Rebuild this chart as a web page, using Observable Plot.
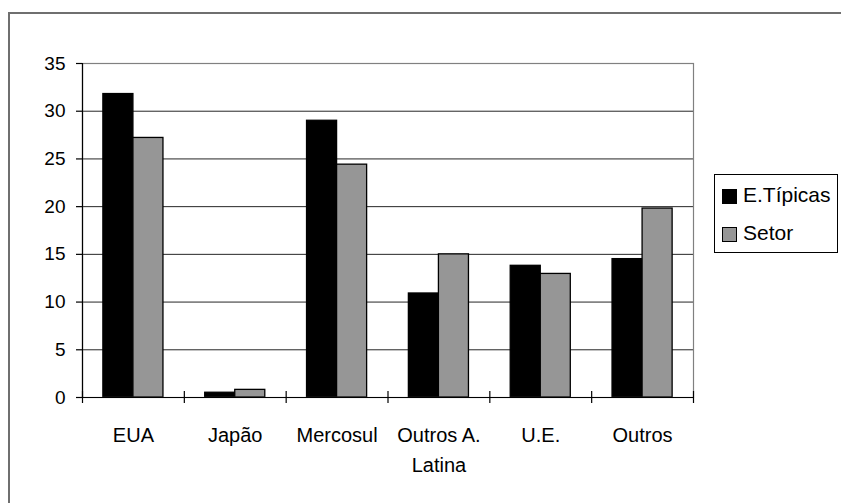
<!DOCTYPE html>
<html>
<head>
<meta charset="utf-8">
<script src="https://cdn.jsdelivr.net/npm/d3@7"></script>
<script src="https://cdn.jsdelivr.net/npm/@observablehq/plot@0.6"></script>
<style>
  html, body { margin: 0; padding: 0; background: #fff; }
  body { position: relative; width: 841px; height: 503px; overflow: hidden;
         font-family: "Liberation Sans", Arial, sans-serif; }
  #chart { position: absolute; left: 0; top: 0; }
  .outer { position: absolute; left: 8px; top: 12px; width: 900px; height: 600px;
           border-left: 2px solid #6f6f6f; border-top: 2px solid #6f6f6f; }
  .legend { position: absolute; left: 714px; top: 174px; width: 124px; height: 79px;
            box-sizing: border-box; border: 1px solid #000; background: #fff; }
  .sw { position: absolute; width: 15px; height: 15px; box-sizing: border-box; border: 1px solid #000; }
  .lt { position: absolute; font-size: 21px; line-height: 21px; color: #000; white-space: nowrap; }
</style>
</head>
<body>
<div id="chart"></div>
<div class="outer"></div>
<div id="legend"></div>
<script>
// Categories (x axis) and the two series of percentages
const categories = ["EUA", "Japão", "Mercosul", "Outros A.\nLatina", "U.E.", "Outros"];
const series = ["E.Típicas", "Setor"];
const tipicas = [31.8, 0.5, 29.0, 10.9, 13.8, 14.5];
const setor = [27.2, 0.8, 24.4, 15.0, 12.95, 19.8];
const yTicks = [0, 5, 10, 15, 20, 25, 30, 35];
const colors = ["#000000", "#969696"];

// Long table: one row per bar
const rows = categories.flatMap((c, i) => [
  {cat: c, i, s: 0, v: tipicas[i]},
  {cat: c, i, s: 1, v: setor[i]}
]);

// Each category occupies one unit on x; the pair of bars sits centered in it
const groupStart = 0.205, barW = 0.295;
const bounds = d3.range(0, categories.length + 1);

const chart = Plot.plot({
  width: 841,
  height: 503,
  marginLeft: 82,
  marginRight: 148,
  marginTop: 63,
  marginBottom: 106,
  style: {fontFamily: "'Liberation Sans', Arial, sans-serif", fontSize: "19px", background: "transparent", color: "#000"},
  x: {domain: [0, categories.length], axis: null},
  y: {domain: [0, 35], axis: null},
  color: {domain: [0, 1], range: colors, type: "ordinal"},
  marks: [
    Plot.gridY(yTicks.filter(t => t > 0 && t < 35), {stroke: "#262626", strokeOpacity: 1, strokeWidth: 1}),
    Plot.rect(rows, {
      x1: d => d.i + groupStart + d.s * barW,
      x2: d => d.i + groupStart + (d.s + 1) * barW,
      y1: () => 0,
      y2: "v",
      fill: d => d.s,
      stroke: "#000",
      strokeWidth: 1.3
    }),
    Plot.frame({stroke: "#808080", strokeWidth: 1.2}),
    Plot.ruleX([0], {stroke: "#000", strokeWidth: 1.2}),
    Plot.ruleY([0], {stroke: "#000", strokeWidth: 1.2}),
    Plot.ruleX(bounds, {x: d => d, y1: () => 0, y2: () => 0, insetTop: -6, insetBottom: -6, stroke: "#000", strokeWidth: 1.2}),
    Plot.axisY({ticks: yTicks, tickSize: 6, tickPadding: 11, fontSize: 19, tickFormat: d => String(d), label: null, stroke: "#000", strokeWidth: 1.2}),
    Plot.text(categories, {
      x: (d, i) => i + 0.5,
      y: () => 0,
      text: d => d,
      lineAnchor: "top",
      dy: 24,
      lineHeight: 1.47,
      fontSize: 20,
      fill: "#000"
    })
  ]
});
document.getElementById("chart").append(chart);

// Legend box to the right of the plot area: frame first, then swatches and names
const legend = document.getElementById("legend");
const box = document.createElement("div");
box.className = "legend";
legend.append(box);
const itemTops = [189, 227];
series.forEach((name, k) => {
  const sw = document.createElement("div");
  sw.className = "sw";
  sw.style.left = "722px";
  sw.style.top = itemTops[k] + "px";
  sw.style.background = colors[k];
  const t = document.createElement("div");
  t.className = "lt";
  t.style.left = "743px";
  t.style.top = (itemTops[k] - 5.5) + "px";
  t.textContent = name;
  legend.append(sw, t);
});
</script>
</body>
</html>
